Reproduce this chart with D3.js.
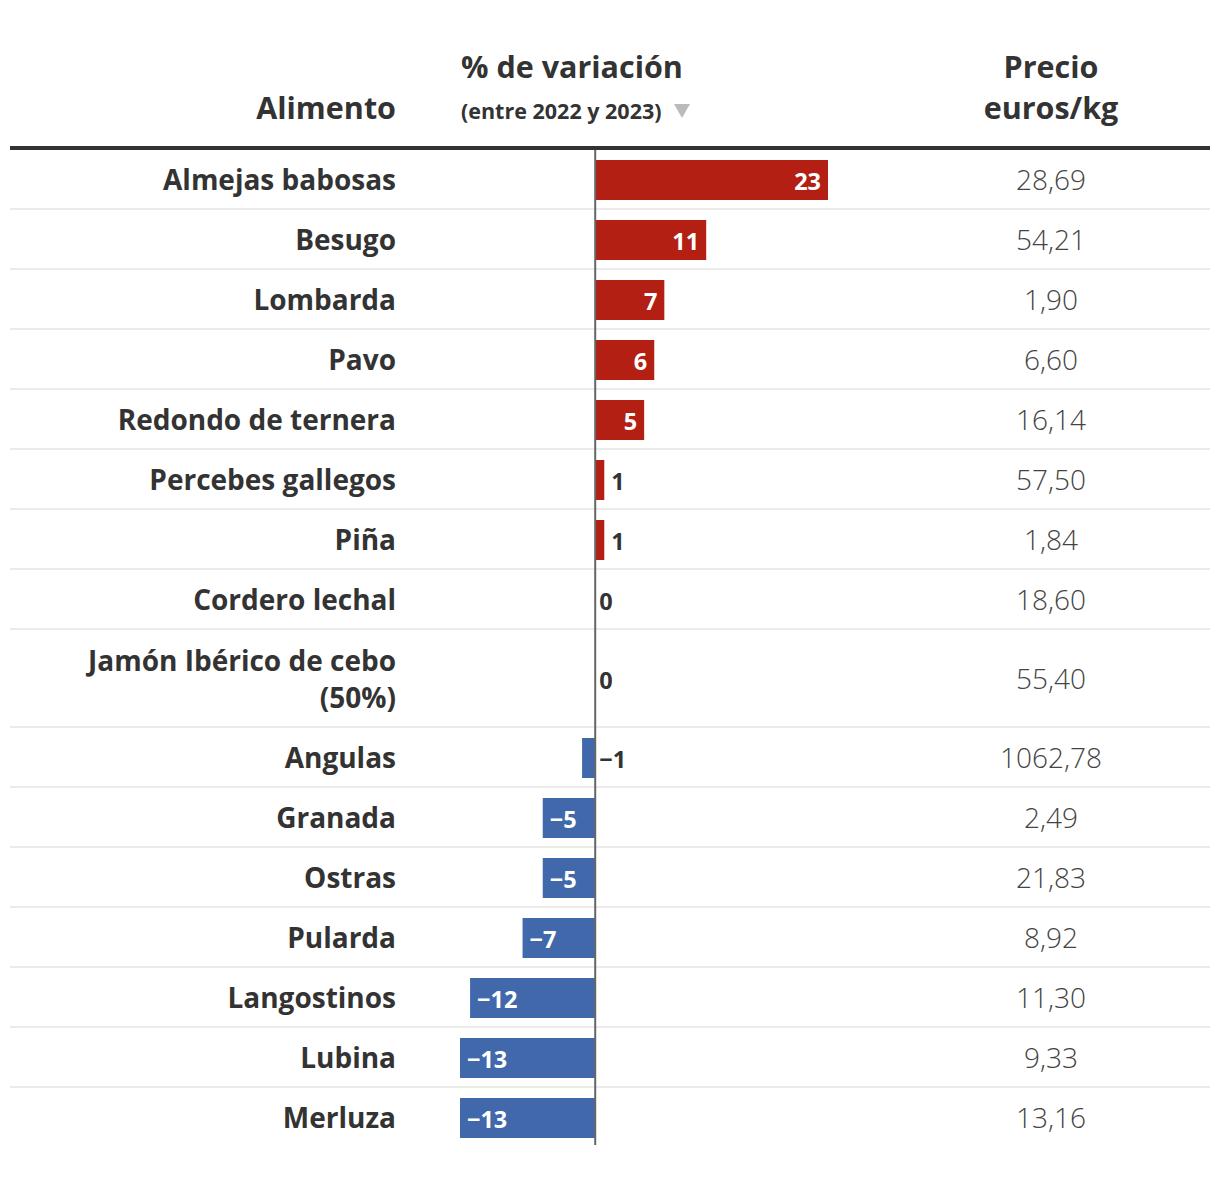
<!DOCTYPE html>
<html>
<head>
<meta charset="utf-8">
<script src="https://cdn.jsdelivr.net/npm/d3@7"></script>
<style>
  html, body { margin: 0; padding: 0; background: #fff; }
  svg { display: block; font-family: "Open Sans", sans-serif; }
</style>
</head>
<body>
<svg id="chart" width="1220" height="1196"></svg>
<script>
const foods = ["Almejas babosas", "Besugo", "Lombarda", "Pavo", "Redondo de ternera",
  "Percebes gallegos", "Piña", "Cordero lechal", "Jamón Ibérico de cebo (50%)", "Angulas",
  "Granada", "Ostras", "Pularda", "Langostinos", "Lubina", "Merluza"];
const variation = [23.07, 11.0, 6.85, 5.85, 4.85, 0.9, 0.9, 0.0, 0.0, -1.3,
  -5.2, -5.2, -7.2, -12.4, -13.4, -13.4];
const prices = ["28,69", "54,21", "1,90", "6,60", "16,14", "57,50", "1,84", "18,60", "55,40",
  "1062,78", "2,49", "21,83", "8,92", "11,30", "9,33", "13,16"];
const labelLines = {"Jamón Ibérico de cebo (50%)": ["Jamón Ibérico de cebo", "(50%)"]};
const headers = {food: "Alimento", varTitle: "% de variación", varSub: "(entre 2022 y 2023)",
  price: ["Precio", "euros/kg"]};

const svg = d3.select("#chart");
const left = 10, right = 1210;
const labelX = 396, priceX = 1051;
const top0 = 150;
const rowH = 60, lineH = 37;

const rows = foods.map((f, i) => {
  const lines = labelLines[f] || [f];
  return {food: f, value: variation[i], price: prices[i], lines,
    h: rowH + (lines.length - 1) * (lineH + 1)};
});
let acc = top0;
rows.forEach(r => { r.y0 = acc; acc += r.h; r.cy = r.y0 + r.h / 2; });
const bottom = acc;

const x = d3.scaleLinear().domain([-13.4, 23.07]).range([460, 828]);
const x0 = x(0);
const fmt = v => { const r = Math.round(v); return (r < 0 ? "\u2212" : "") + Math.abs(r); };

const RED = "#b31f12", BLUE = "#4168ab", TXT = "#333";

// headers
svg.append("text").attr("x", labelX).attr("y", 119).attr("text-anchor", "end")
  .attr("font-size", 30.5).attr("font-weight", 700).attr("fill", TXT).text(headers.food);
svg.append("text").attr("x", 461).attr("y", 78)
  .attr("font-size", 30.5).attr("font-weight", 700).attr("fill", TXT).text(headers.varTitle);
svg.append("text").attr("x", 461).attr("y", 119)
  .attr("font-size", 21.5).attr("font-weight", 700).attr("fill", TXT).text(headers.varSub);
svg.append("path").attr("d", "M674,104 L690,104 L682,118 Z").attr("fill", "#bbb");
headers.price.forEach((t, i) => {
  svg.append("text").attr("x", priceX).attr("y", 78 + i * 41).attr("text-anchor", "middle")
    .attr("font-size", 30.5).attr("font-weight", 700).attr("fill", TXT).text(t);
});

// header rule
svg.append("rect").attr("x", left).attr("y", 146).attr("width", right - left).attr("height", 4)
  .attr("fill", "#333");

// row separators
svg.selectAll("rect.sep").data(rows.slice(0, -1)).join("rect").attr("class", "sep")
  .attr("x", left).attr("width", right - left)
  .attr("y", d => d.y0 + d.h - 2).attr("height", 2).attr("fill", "#ebebeb");

// bars
svg.selectAll("rect.bar").data(rows).join("rect").attr("class", "bar")
  .attr("x", d => Math.min(x(d.value), x0))
  .attr("width", d => Math.abs(x(d.value) - x0))
  .attr("y", d => d.cy - 20).attr("height", 40)
  .attr("fill", d => d.value >= 0 ? RED : BLUE);

// zero axis
svg.append("line").attr("x1", x0).attr("x2", x0).attr("y1", top0).attr("y2", bottom - 3)
  .attr("stroke", "#666").attr("stroke-width", 2);

// bar labels
svg.selectAll("text.val").data(rows).join("text").attr("class", "val")
  .attr("font-size", 23.5).attr("font-weight", 700)
  .attr("y", d => d.cy + 9.5)
  .each(function(d) {
    const w = Math.abs(x(d.value) - x0);
    const sel = d3.select(this);
    if (w > 35) {
      sel.attr("fill", "#fff");
      if (d.value > 0) sel.attr("x", x(d.value) - 7).attr("text-anchor", "end");
      else sel.attr("x", x(d.value) + 7).attr("text-anchor", "start");
    } else {
      sel.attr("fill", TXT).attr("text-anchor", "start")
        .attr("x", Math.max(x(d.value), x0) + (d.value > 0.5 ? 7 : 4));
    }
  })
  .text(d => fmt(d.value));

// food labels
const lab = svg.selectAll("text.food").data(rows).join("text").attr("class", "food")
  .attr("text-anchor", "end").attr("font-size", 28).attr("font-weight", 700).attr("fill", TXT);
lab.each(function(d) {
  const n = d.lines.length;
  const base = d.cy + 10 - (n - 1) * lineH / 2;
  d3.select(this).selectAll("tspan").data(d.lines).join("tspan")
    .attr("x", labelX).attr("y", (l, i) => base + i * lineH).text(l => l);
});

// prices
svg.selectAll("text.price").data(rows).join("text").attr("class", "price")
  .attr("x", priceX).attr("y", d => d.cy + 10).attr("text-anchor", "middle")
  .attr("font-size", 28).attr("font-weight", 300).attr("fill", "#444")
  .text(d => d.price);
</script>
</body>
</html>
